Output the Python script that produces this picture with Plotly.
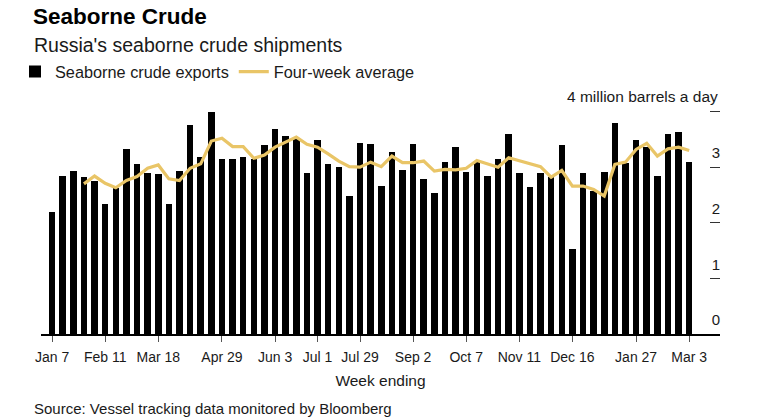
import plotly.graph_objects as go
import pandas as pd

# ---- data -----------------------------------------------------------------
week_ending = [
    "2018-01-07", "2018-01-14", "2018-01-21", "2018-01-28",
    "2018-02-04", "2018-02-11", "2018-02-18", "2018-02-25",
    "2018-03-04", "2018-03-11", "2018-03-18", "2018-03-25",
    "2018-04-01", "2018-04-08", "2018-04-15", "2018-04-22", "2018-04-29",
    "2018-05-06", "2018-05-13", "2018-05-20", "2018-05-27",
    "2018-06-03", "2018-06-10", "2018-06-17", "2018-06-24",
    "2018-07-01", "2018-07-08", "2018-07-15", "2018-07-22", "2018-07-29",
    "2018-08-05", "2018-08-12", "2018-08-19", "2018-08-26",
    "2018-09-02", "2018-09-09", "2018-09-16", "2018-09-23", "2018-09-30",
    "2018-10-07", "2018-10-14", "2018-10-21", "2018-10-28",
    "2018-11-04", "2018-11-11", "2018-11-18", "2018-11-25",
    "2018-12-02", "2018-12-09", "2018-12-16", "2018-12-23", "2018-12-30",
    "2019-01-06", "2019-01-13", "2019-01-20", "2019-01-27",
    "2019-02-03", "2019-02-10", "2019-02-17", "2019-02-24",
    "2019-03-03",
]

exports = [
    2.19, 2.85, 2.94, 2.83, 2.75, 2.33, 2.62, 3.32, 3.06, 2.90,
    2.87, 2.34, 2.94, 3.76, 3.19, 3.99, 3.15, 3.14, 3.19, 3.15,
    3.39, 3.69, 3.56, 3.50, 2.90, 3.48, 3.06, 3.00, 2.49, 3.44,
    3.42, 2.67, 3.27, 2.95, 3.42, 2.79, 2.54, 3.09, 3.36, 2.92,
    3.09, 2.85, 3.14, 3.60, 2.90, 2.65, 2.90, 2.82, 3.39, 1.53,
    2.90, 2.57, 2.91, 3.80, 3.08, 3.48, 3.37, 2.85, 3.60, 3.63,
    3.10,
]

avg_weeks = week_ending[3:]
four_week_avg = [
    2.70, 2.84, 2.71, 2.63, 2.76, 2.83, 2.98, 3.04, 2.79, 2.76,
    2.98, 3.06, 3.47, 3.52, 3.37, 3.37, 3.16, 3.22, 3.36, 3.45,
    3.54, 3.41, 3.36, 3.24, 3.11, 3.01, 3.00, 3.09, 3.01, 3.20,
    3.08, 3.08, 3.11, 2.93, 2.96, 2.95, 2.98, 3.12, 3.06, 3.00,
    3.17, 3.12, 3.07, 3.01, 2.82, 2.94, 2.66, 2.66, 2.60, 2.48,
    3.05, 3.09, 3.32, 3.43, 3.20, 3.33, 3.36, 3.30,
]

tick_dates = ["2018-01-07", "2018-02-11", "2018-03-18", "2018-04-29",
              "2018-06-03", "2018-07-01", "2018-07-29", "2018-09-02",
              "2018-10-07", "2018-11-11", "2018-12-16", "2019-01-27",
              "2019-03-03"]
tick_labels = ["Jan 7", "Feb 11", "Mar 18", "Apr 29", "Jun 3", "Jul 1",
               "Jul 29", "Sep 2", "Oct 7", "Nov 11", "Dec 16", "Jan 27",
               "Mar 3"]

y_tickvals = [0, 1, 2, 3, 4]
y_ticktext = ["0", "1", "2", "3", ""]

# ---- figure ---------------------------------------------------------------
FONT = "Liberation Sans, Arial, sans-serif"
TEXT = "#1a1a1a"
GOLD = "#E9C567"
DAY_MS = 86400000
W, H = 758, 420
ML, MR, MT, MB = 41, 38, 106, 86
PH = H - MT - MB  # plot height in px


def py(pix):  # pixel row -> paper y
    return (H - MB - pix) / PH


def px(pix):  # pixel column -> paper x
    return (pix - ML) / (W - ML - MR)


fig = go.Figure()
fig.add_trace(go.Bar(
    x=week_ending, y=exports, name="Seaborne crude exports",
    marker=dict(color="#000000", line=dict(width=0)),
    width=4.3 * DAY_MS,
))
fig.add_trace(go.Scatter(
    x=avg_weeks, y=four_week_avg, name="Four-week average",
    mode="lines", line=dict(color=GOLD, width=3.2),
))

x0 = pd.Timestamp(week_ending[0]) - pd.Timedelta(days=7.3)
x1 = pd.Timestamp(week_ending[-1]) + pd.Timedelta(days=20.3)

fig.update_layout(
    width=W, height=H,
    margin=dict(l=ML, r=MR, t=MT, b=MB, autoexpand=False),
    paper_bgcolor="white", plot_bgcolor="white",
    font=dict(family=FONT, color=TEXT, size=14),
    bargap=0,
    showlegend=True,
    legend=dict(
        orientation="h", xref="container", yref="container",
        x=15 / W, y=1 - 72 / H, xanchor="left", yanchor="middle",
        font=dict(size=16.3, color=TEXT), bgcolor="rgba(0,0,0,0)",
        itemwidth=30, tracegroupgap=0,
    ),
    xaxis=dict(
        type="date", range=[x0, x1],
        tickmode="array", tickvals=tick_dates, ticktext=tick_labels,
        tickangle=0, ticks="outside", ticklen=6, tickcolor="#555555",
        tickwidth=1, showline=True, linecolor="#000000", linewidth=1.5,
        showgrid=False, zeroline=False, ticklabelstandoff=3,
        tickfont=dict(size=14, color=TEXT),
        title=dict(text="Week ending", font=dict(size=15.5, color=TEXT), standoff=12),
    ),
    yaxis=dict(
        side="right", range=[0, 4.1],
        tickmode="array", tickvals=y_tickvals, ticktext=y_ticktext,
        ticks="inside", ticklen=10, tickcolor="#333333", tickwidth=1.3,
        ticklabelposition="inside", ticklabelshift=-14, ticklabelstandoff=-10,
        showgrid=False, zeroline=False, showline=False,
        tickfont=dict(size=15, color=TEXT),
    ),
    annotations=[
        dict(text="<b>Seaborne Crude</b>", xref="paper", yref="paper",
             x=px(31), y=py(16), xanchor="left", yanchor="middle",
             showarrow=False, font=dict(size=22.5, color="#000000")),
        dict(text="Russia's seaborne crude shipments", xref="paper", yref="paper",
             x=px(32), y=py(45), xanchor="left", yanchor="middle",
             showarrow=False, font=dict(size=19.5, color=TEXT)),
        dict(text="4 million barrels a day", xref="paper", yref="y",
             x=1.0, y=4, yshift=15, xanchor="right", yanchor="middle",
             showarrow=False, font=dict(size=15.5, color=TEXT)),
        dict(text="Source: Vessel tracking data monitored by Bloomberg",
             xref="paper", yref="paper", x=px(32), y=py(408),
             xanchor="left", yanchor="middle", showarrow=False,
             font=dict(size=15, color=TEXT)),
    ],
)

fig.write_html(
    "out.html",
    config={"displayModeBar": False},
    post_script="document.body.style.margin='0px';",
)
